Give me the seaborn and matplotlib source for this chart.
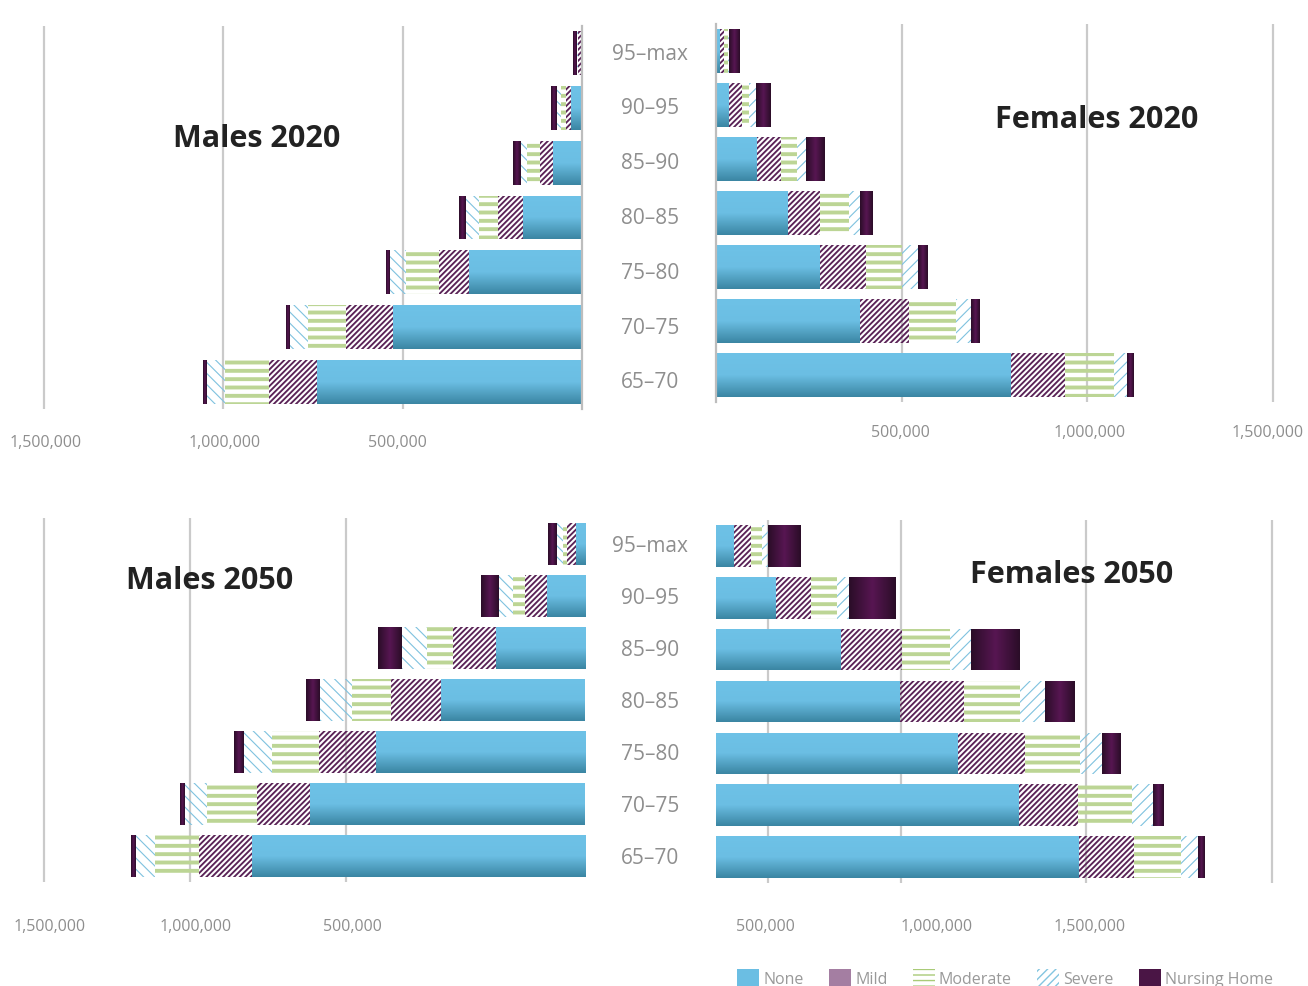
import seaborn as sns
import matplotlib as mpl
import matplotlib.pyplot as plt
import matplotlib.transforms as mtransforms
import numpy as np
import pandas as pd
from matplotlib.patches import Patch
from matplotlib.colors import LinearSegmentedColormap
from matplotlib.ticker import FixedLocator, FixedFormatter, NullFormatter

sns.set_style("white")
plt.rcParams["font.family"] = ["Open Sans", "DejaVu Sans"]

# ---- data (rows from top to bottom) ----
ages = ["95–max", "90–95", "85–90", "80–85", "75–80", "70–75", "65–70"]
levels = ["None", "Mild", "Moderate", "Severe", "Nursing Home"]

males_2020_none = [1400, 31500, 80000, 163500, 315600, 527400, 738300]
males_2020_mild = [8400, 13900, 37000, 70500, 83600, 131000, 134800]
males_2020_moderate = [1400, 12000, 37000, 52100, 91900, 105900, 120600]
males_2020_severe = [1400, 11100, 16700, 37900, 43700, 49300, 50100]
males_2020_nursing = [11100, 16700, 21500, 18700, 11100, 11100, 11100]

females_2020_none = [8900, 33100, 109700, 192200, 278400, 387300, 793100]
females_2020_mild = [12700, 36100, 64700, 87300, 125000, 132900, 147400]
females_2020_moderate = [10800, 19700, 44700, 79000, 97000, 125900, 132900]
females_2020_severe = [1300, 18900, 23400, 29600, 43900, 41200, 34200]
females_2020_nursing = [29600, 40400, 51200, 35000, 24300, 21600, 18100]

males_2050_none = [25800, 106200, 247600, 399300, 580400, 761700, 924200]
males_2050_mild = [23300, 60200, 117600, 138700, 157200, 147800, 145300]
males_2050_moderate = [11100, 32400, 73800, 107300, 129500, 139500, 122800]
males_2050_severe = [18300, 39700, 71300, 89600, 81200, 62900, 55500]
males_2050_nursing = [24100, 49900, 63800, 38800, 25000, 11100, 11100]

females_2050_none = [46700, 161200, 336700, 496800, 652600, 816200, 978200]
females_2050_mild = [47800, 95300, 165500, 173600, 181700, 160400, 149600]
females_2050_moderate = [28900, 69400, 129600, 150400, 147700, 147400, 127700]
females_2050_severe = [17000, 33200, 56700, 67500, 60200, 55900, 45900]
females_2050_nursing = [89100, 126900, 132300, 81000, 51300, 29700, 18900]

tick_labels_2020_m = ["1,500,000", "1,000,000", "500,000"]
tick_labels_2020_f = ["500,000", "1,000,000", "1,500,000"]
tick_labels_2050_m = ["1,500,000", "1,000,000", "500,000"]
tick_labels_2050_f = ["500,000", "1,000,000", "1,500,000"]

# ---- styles ----
GRID = "#CACACA"
TICKC = "#8E8E8E"
none_cmap = LinearSegmentedColormap.from_list(
    "none", [(0, "#6EC2E7"), (0.5, "#6BBEE3"), (1, "#3A85A2")])
nurse_cmap = LinearSegmentedColormap.from_list(
    "nurse", [(0, "#2A0D27"), (0.5, "#571652"), (1, "#2A0D27")])

W, H = 1308, 987
fig = plt.figure(figsize=(W / 100, H / 100), dpi=100)


def px_axes(l, t, r, b):
    return fig.add_axes([l / W, 1 - b / H, (r - l) / W, (b - t) / H])


def gradient(ax, bars, cmap, horizontal):
    g = np.linspace(0, 1, 256)
    g = g.reshape(1, -1) if horizontal else g.reshape(-1, 1)
    for bar in bars:
        x0, y0 = bar.get_x(), bar.get_y()
        w, h = bar.get_width(), bar.get_height()
        if w <= 0:
            continue
        im = ax.imshow(g, extent=[x0, x0 + w, y0 + h, y0], cmap=cmap,
                       aspect="auto", interpolation="bilinear",
                       zorder=bar.get_zorder() + 0.1)
        im.set_clip_path(bar)


def panel(ax, series, severe_hatch):
    left = np.zeros(len(ages))
    styles = [
        dict(color="#6BBEE3", linewidth=0),
        dict(color="#5A2357", facecolor="none", edgecolor="#5A2357",
             hatch="//////", linewidth=0),
        dict(color="#BCD595", facecolor="none", edgecolor="#BCD595",
             hatch="--", linewidth=0),
        dict(color="#7FC2DF", facecolor="none", edgecolor="#7FC2DF",
             hatch=severe_hatch, linewidth=0),
        dict(color="#4A1545", linewidth=0),
    ]
    hatch_lw = [1, 1.35, 2.8, 0.8, 1]
    for k, vals in enumerate(series):
        df = pd.DataFrame({"age": ages, "value": vals})
        with mpl.rc_context({"hatch.linewidth": hatch_lw[k]}):
            sns.barplot(data=df, x="value", y="age", order=ages, orient="h",
                        ax=ax, left=left.copy(), width=0.8, errorbar=None,
                        saturation=1, **styles[k])
        bars = ax.containers[-1]
        for b in bars:
            if hasattr(b, "set_hatch_linewidth"):
                b.set_hatch_linewidth(hatch_lw[k])
        if k == 0:
            gradient(ax, bars, none_cmap, horizontal=False)
        if k == 4:
            gradient(ax, bars, nurse_cmap, horizontal=True)
        left += np.array(vals)


def axis_style(ax, xlim, grid_vals, label_vals, labels, pad, spine=None):
    ax.set_xlim(*xlim)
    ax.set_ylim(len(ages) - 0.5, -0.5)
    ax.set_xlabel("")
    ax.set_ylabel("")
    for s in ax.spines.values():
        s.set_visible(False)
    if spine:
        ax.spines[spine].set_visible(True)
        ax.spines[spine].set_color("#BDBDBD")
        ax.spines[spine].set_linewidth(1.6)
    ax.set_axisbelow(True)
    ax.xaxis.set_major_locator(FixedLocator(grid_vals))
    ax.xaxis.set_major_formatter(NullFormatter())
    ax.xaxis.set_minor_locator(FixedLocator(label_vals))
    ax.xaxis.set_minor_formatter(FixedFormatter(labels))
    ax.grid(axis="x", which="major", color=GRID, linewidth=1.6)
    ax.grid(axis="y", visible=False)
    ax.tick_params(axis="x", which="both", length=0)
    ax.tick_params(axis="x", which="minor", pad=pad, labelsize=11.5,
                   labelcolor=TICKC)
    ax.tick_params(axis="y", left=False, labelleft=False)


# ---- panels ----
ax_tl = px_axes(20, 26.6, 582, 410.4)
panel(ax_tl, [males_2020_none, males_2020_mild, males_2020_moderate,
              males_2020_severe, males_2020_nursing], "\\\\\\")
axis_style(ax_tl, (1566000, 0), [500000, 1000000, 1500000],
           [1496000, 997000, 515000], tick_labels_2020_m, 17.5, spine="right")

ax_tr = px_axes(716, 25, 1290, 403)
panel(ax_tr, [females_2020_none, females_2020_mild, females_2020_moderate,
              females_2020_severe, females_2020_nursing], "///")
axis_style(ax_tr, (0, 1546930), [500000, 1000000, 1500000],
           [495900, 1008000, 1487600], tick_labels_2020_f, 16, spine="left")

ax_bl = px_axes(20, 519, 585, 883)
panel(ax_bl, [males_2050_none, males_2050_mild, males_2050_moderate,
              males_2050_severe, males_2050_nursing], "\\\\\\")
axis_style(ax_bl, (1566745, 0), [662700, 1095300, 1500200],
           [1483600, 1078700, 646100], tick_labels_2050_m, 26)

ax_br = px_axes(716, 521, 1290, 884)
panel(ax_br, [females_2050_none, females_2050_mild, females_2050_moderate,
              females_2050_severe, females_2050_nursing], "///")
axis_style(ax_br, (0, 1549800), [140400, 500000, 1000000, 1500000],
           [132300, 596700, 1009800], tick_labels_2050_f, 25)

# ---- age labels in the middle ----
for ax in (ax_tl, ax_br):
    tr = mtransforms.blended_transform_factory(fig.transFigure, ax.transData)
    for i, age in enumerate(ages):
        ax.text(650 / W, i, age, transform=tr, ha="center", va="center",
                fontsize=15, color="#8E8E8E")

# ---- titles ----
for txt, x, y in [("Males 2020", 173, 139), ("Females 2020", 995, 120),
                  ("Males 2050", 126, 581), ("Females 2050", 970, 575)]:
    fig.text(x / W, 1 - y / H, txt, ha="left", va="center", fontsize=22,
             fontweight="bold", color="#222222")

# ---- legend ----
handles = [
    Patch(facecolor="#6BBEE3", linewidth=0),
    Patch(facecolor="#A47EA2", linewidth=0),
    Patch(facecolor="white", edgecolor="#A9CB78", hatch="---", linewidth=0),
    Patch(facecolor="white", edgecolor="#83C5E0", hatch="////", linewidth=0),
    Patch(facecolor="#4A1545", linewidth=0),
]
fig.legend(handles, levels, loc="center left",
           bbox_to_anchor=(737 / W, 1 - 979 / H), ncol=5, frameon=False,
           fontsize=11.5, handlelength=1.4, handleheight=1.4,
           handletextpad=0.25, columnspacing=1.57, labelcolor="#999999",
           borderaxespad=0, borderpad=0)

fig.savefig("out.png", dpi=100)
